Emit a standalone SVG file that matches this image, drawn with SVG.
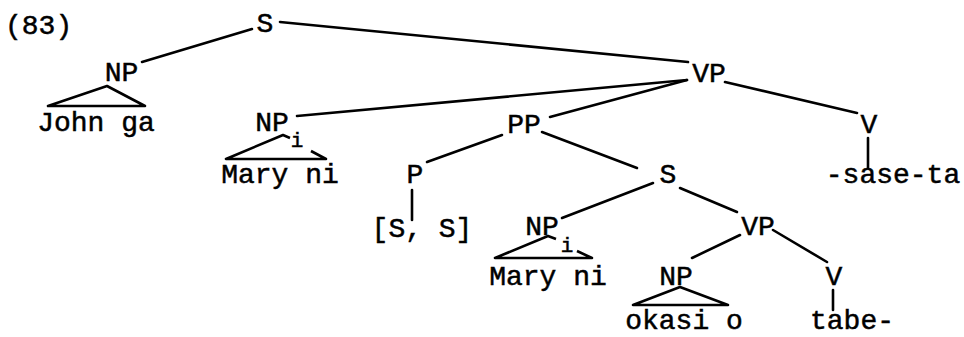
<svg xmlns="http://www.w3.org/2000/svg" width="964" height="337" viewBox="0 0 964 337">
<style>
text{font-family:"Liberation Mono","DejaVu Sans Mono",monospace;font-size:28px;fill:#000;stroke:#000;stroke-width:0.5;text-anchor:middle}
.num{text-anchor:start}
.sub{font-size:21px}
.e{stroke:#000;stroke-width:2.6;stroke-linecap:round;fill:none}
.tri{stroke:#000;stroke-width:2.6;stroke-linejoin:round;fill:none}
</style>
<rect width="964" height="337" fill="#fff"/>
<text class="num" x="5" y="34">(83)</text>
<g id="connectors">
<line class="e" x1="252" y1="29" x2="142" y2="62"/>
<line class="e" x1="280" y1="22" x2="688" y2="62"/>
<line class="e" x1="297" y1="116" x2="687" y2="80"/>
<line class="e" x1="550" y1="117" x2="687" y2="80"/>
<line class="e" x1="725" y1="82" x2="857" y2="113"/>
<line class="e" x1="868" y1="138" x2="868" y2="168"/>
<line class="e" x1="502" y1="135" x2="427" y2="162"/>
<line class="e" x1="542" y1="132" x2="637" y2="168"/>
<line class="e" x1="412" y1="190" x2="412" y2="220"/>
<line class="e" x1="653" y1="183" x2="562" y2="218"/>
<line class="e" x1="680" y1="188" x2="737" y2="212"/>
<line class="e" x1="740" y1="235" x2="692" y2="258"/>
<line class="e" x1="773" y1="230" x2="827" y2="262"/>
<line class="e" x1="833" y1="290" x2="833" y2="310"/>
<polygon class="tri" points="107,86 48,106 145,106"/>
<polyline class="tri" points="290,138 283,135 226,159 326,159 311,151"/>
<polyline class="tri" points="556,239 548,236 495,258 592,258 577,251"/>
<polygon class="tri" points="680,287 633,305 728,305"/>
</g>
<g id="s-top"><text x="265" y="32">S</text></g>
<g id="np-john"><text x="121.5" y="81">NP</text><text x="96" y="131">John ga</text></g>
<g id="vp-top"><text x="709" y="82">VP</text></g>
<g id="np-mary-1"><text x="272" y="131">NP</text><text class="sub" x="297" y="147">i</text><text x="280" y="183">Mary ni</text></g>
<g id="pp"><text x="524" y="133">PP</text></g>
<g id="v-top"><text x="869" y="133">V</text><text x="893" y="183">-sase-ta</text></g>
<g id="p"><text x="415" y="183">P</text><text x="422" y="237">[S, S]</text></g>
<g id="s-low"><text x="668" y="183">S</text></g>
<g id="np-mary-2"><text x="542" y="235">NP</text><text class="sub" x="567" y="252">i</text><text x="548" y="285">Mary ni</text></g>
<g id="vp-low"><text x="758" y="235">VP</text></g>
<g id="np-okasi"><text x="676" y="285">NP</text><text x="684" y="329">okasi o</text></g>
<g id="v-low"><text x="834" y="285">V</text><text x="852" y="329">tabe-</text></g>
</svg>
